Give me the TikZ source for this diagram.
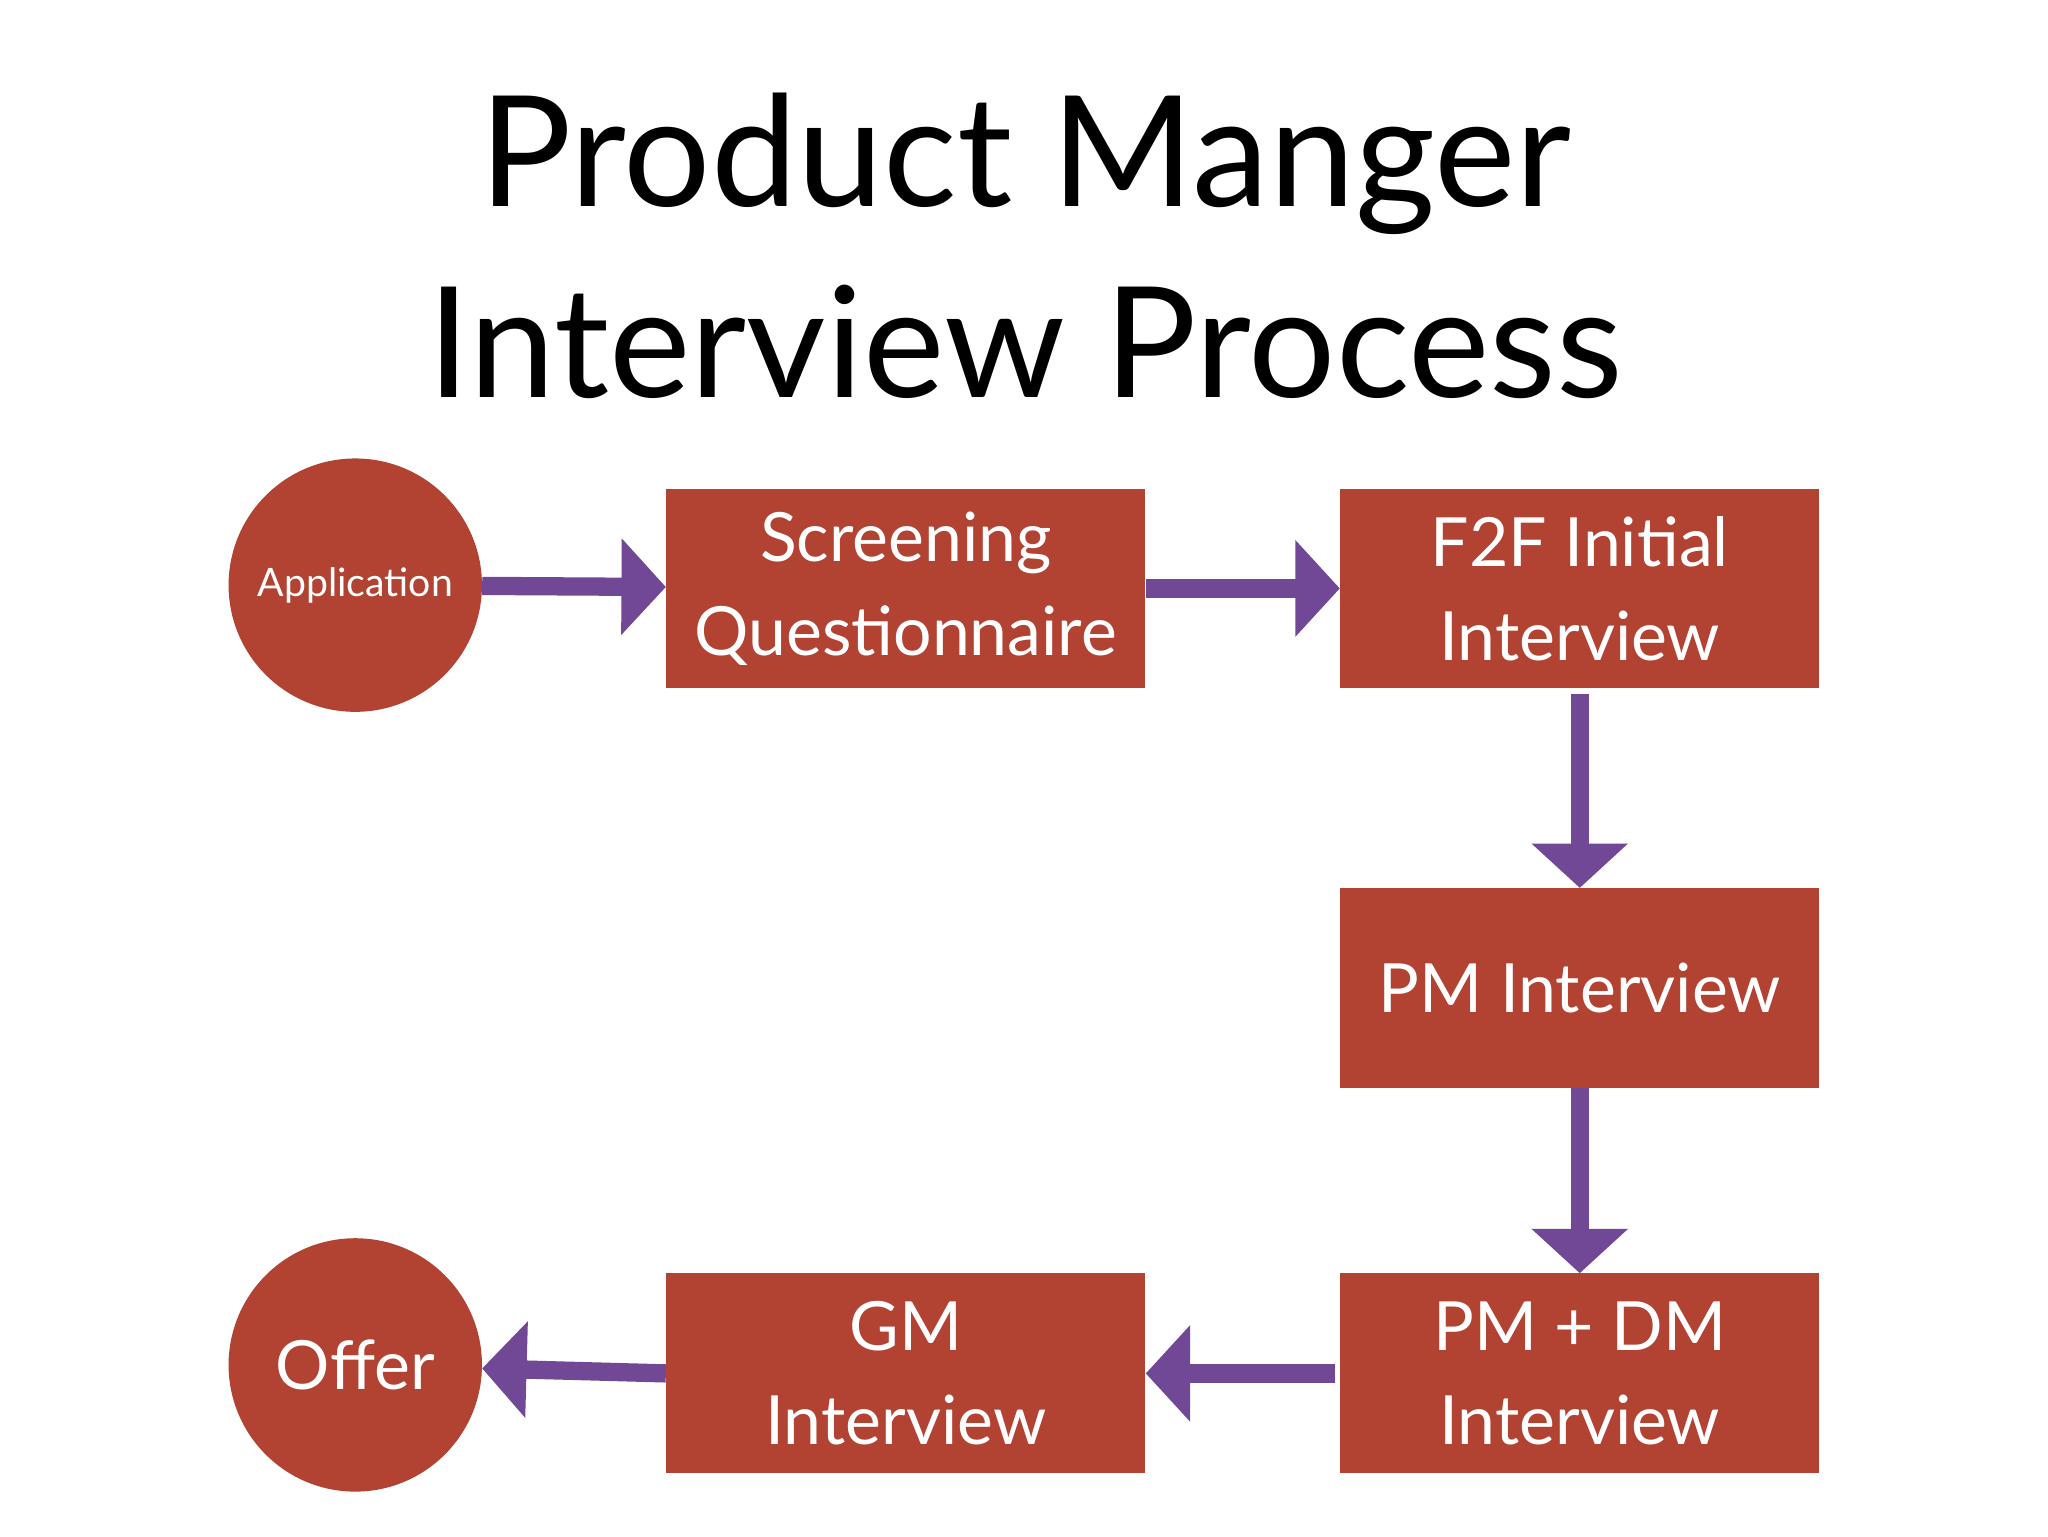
\documentclass[tikz,border=0pt]{standalone}
\usepackage{fontspec}
\setmainfont{Lato}
\usetikzlibrary{arrows.meta}
\definecolor{boxred}{RGB}{178,66,50}
\definecolor{arrowpurple}{RGB}{112,72,150}
\begin{document}
\begin{tikzpicture}[x=1pt,y=-1pt,
  box/.style={fill=boxred,minimum width=367pt,minimum height=153pt,inner sep=0pt,text=white,align=center,font=\fontsize{52}{72}\selectfont},
  circ/.style={circle,fill=boxred,minimum size=194pt,inner sep=0pt,text=white},
  arr/.style={draw=arrowpurple,line width=14pt,-{Triangle[width=72pt,length=34pt]}}]
\useasboundingbox[fill=white] (0,0) rectangle (1568,1176);
\node[font=\fontsize{118}{146}\selectfont,align=center] (title) at (785,188) {Product Manger\\Interview Process};
\node[circ,font=\fontsize{30}{36}\selectfont] (app) at (272,448) {Application};
\node[box] (scr) at (693.5,450.5) {Screening\\Questionnaire};
\node[box] (f2f) at (1209.5,450.5) {F2F Initial\\Interview};
\node[box] (pm) at (1209.5,756.5) {PM Interview};
\node[box] (pmdm) at (1209.5,1051.5) {PM + DM\\Interview};
\node[box] (gm) at (693.5,1051.5) {GM\\Interview};
\node[circ,font=\fontsize{52}{60}\selectfont] (off) at (272,1045) {Offer};
\draw[arr] (app) -- (scr);
\draw[arr] (scr) -- (f2f);
\draw[arr,shorten <=4pt] (f2f) -- (pm);
\draw[arr] (pm) -- (pmdm);
\draw[arr,shorten <=4pt] (pmdm) -- (gm);
\draw[arr] (gm.west) -- (off);
\end{tikzpicture}
\end{document}
